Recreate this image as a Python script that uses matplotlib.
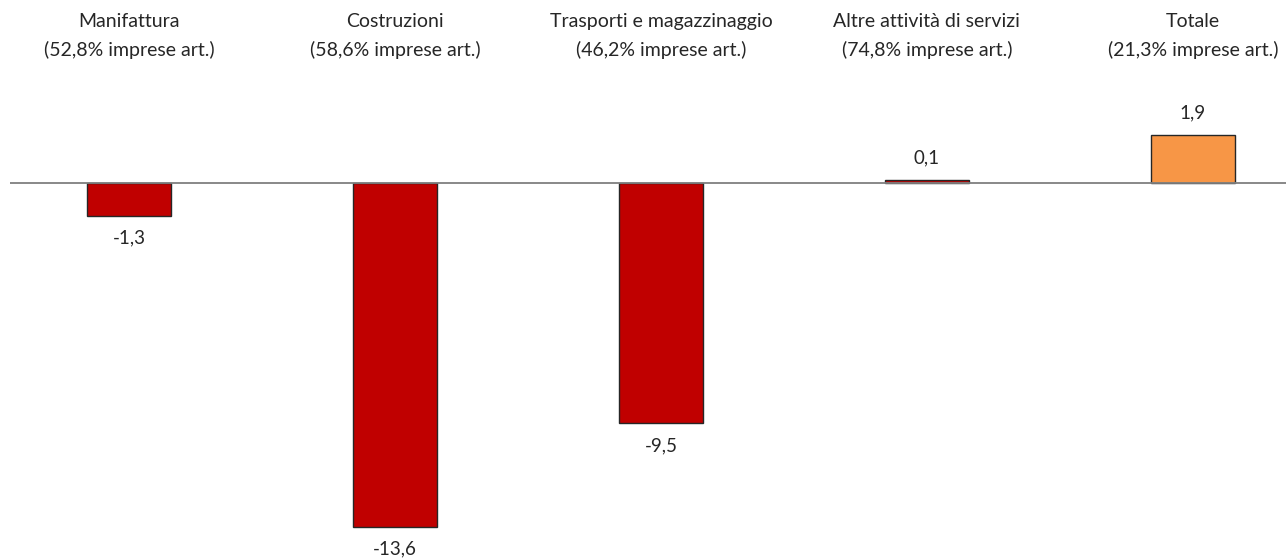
import matplotlib.pyplot as plt
import matplotlib.transforms as mtransforms

# Dati
categorie = ["Manifattura", "Costruzioni", "Trasporti e magazzinaggio",
             "Altre attività di servizi", "Totale"]
quote_artigiane = ["52,8%", "58,6%", "46,2%", "74,8%", "21,3%"]
valori = [-1.3, -13.6, -9.5, 0.1, 1.9]
colori = ["#C00000", "#C00000", "#C00000", "#C00000", "#F79646"]

plt.rcParams['font.family'] = ['Lato', 'DejaVu Sans']

fig = plt.figure(figsize=(12.86, 5.6), dpi=100)
# assi posizionati in pixel: da x=10 a 1286, da y=100 a 545 (dall'alto)
ax = fig.add_axes([10 / 1286, 15 / 560, 1276 / 1286, 445 / 560])

x = list(range(len(categorie)))
ax.bar(x, valori, width=0.316, color=colori, edgecolor="#262626", linewidth=1, zorder=2)
ax.axhline(0, color="#7f7f7f", linewidth=1.3, zorder=3)

ax.set_xlim(-0.447, 4.35)
ax.set_ylim(-14.31, 3.28)
ax.axis("off")

# etichette dei valori
for xi, v in zip(x, valori):
    testo = f"{v:.1f}".replace(".", ",")
    offset = 16 if v >= 0 else -16
    ax.annotate(testo, (xi, v), xytext=(0, offset), textcoords="offset points",
                ha="center", va="center", fontsize=13.5, color="#262626")

# titoli delle categorie in alto
trans = mtransforms.blended_transform_factory(ax.transData, fig.transFigure)
for xi, nome, quota in zip(x, categorie, quote_artigiane):
    ax.text(xi, 1 - 36 / 560, f"{nome}\n({quota} imprese art.)", transform=trans,
            ha="center", va="center", fontsize=14, color="#262626", linespacing=1.7)

fig.savefig("out.png", dpi=100)
